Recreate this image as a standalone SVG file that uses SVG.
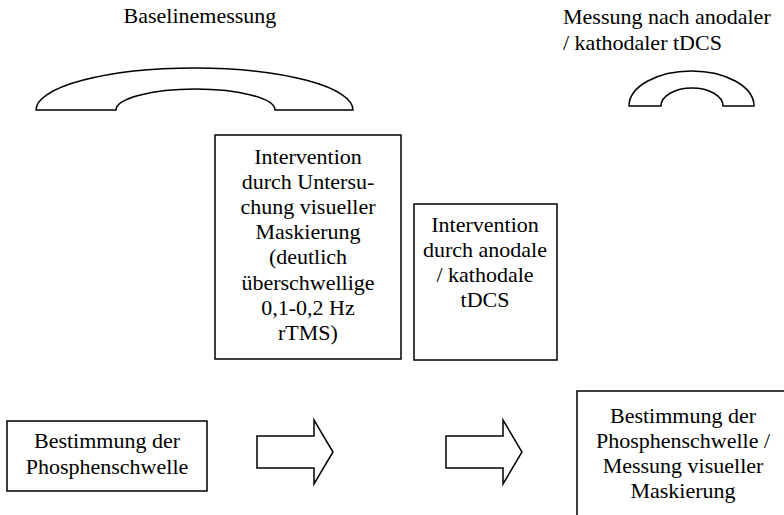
<svg xmlns="http://www.w3.org/2000/svg" width="784" height="515" viewBox="0 0 784 515">
<style>
text{font-family:"Liberation Serif","Times New Roman",serif;font-size:22px;fill:#000}
.c{text-anchor:middle}
.s{fill:#fff;stroke:#000;stroke-width:1.5}
</style>
<rect width="784" height="515" fill="#fff"/>
<g id="label-baseline"><text class="c" x="200" y="23">Baselinemessung</text></g>
<g id="label-messung"><text x="563" y="24">Messung nach anodaler</text><text x="563" y="50">/ kathodaler tDCS</text></g>
<g id="arc1"><path class="s" d="M36,110 A158.5,42 0 0 1 353,110 L275,110 A79.5,21 0 0 0 116,110 Z"/></g>
<g id="arc2"><path class="s" d="M629,106 A62.5,35 0 0 1 754,106 L723,106 A31,18 0 0 0 661,106 Z"/></g>
<g id="boxA"><rect class="s" x="215" y="135" width="186" height="224"/>
<text class="c" x="308" y="164">Intervention</text>
<text class="c" x="308" y="189">durch Untersu-</text>
<text class="c" x="308" y="214">chung visueller</text>
<text class="c" x="308" y="239">Maskierung</text>
<text class="c" x="308" y="264">(deutlich</text>
<text class="c" x="308" y="290">überschwellige</text>
<text class="c" x="308" y="315">0,1-0,2 Hz</text>
<text class="c" x="308" y="340">rTMS)</text></g>
<g id="boxB"><rect class="s" x="414" y="204" width="143" height="156"/>
<text class="c" x="485" y="232">Intervention</text>
<text class="c" x="485" y="257">durch anodale</text>
<text class="c" x="485" y="282">/ kathodale</text>
<text class="c" x="485" y="307">tDCS</text></g>
<g id="boxC"><rect class="s" x="7" y="421" width="200" height="70"/>
<text class="c" x="107" y="448">Bestimmung der</text>
<text class="c" x="107" y="474">Phosphenschwelle</text></g>
<g id="boxD"><rect class="s" x="577" y="391" width="212" height="140"/>
<text class="c" x="683" y="423">Bestimmung der</text>
<text class="c" x="683" y="448">Phosphenschwelle /</text>
<text class="c" x="683" y="473">Messung visueller</text>
<text class="c" x="683" y="498">Maskierung</text></g>
<g id="connectors">
<path class="s" d="M257,436 H314 V420 L333,452 L314,484 V468 H257 Z"/>
<path class="s" d="M446,436 H503 V420 L522,452 L503,484 V468 H446 Z"/>
</g>
</svg>
